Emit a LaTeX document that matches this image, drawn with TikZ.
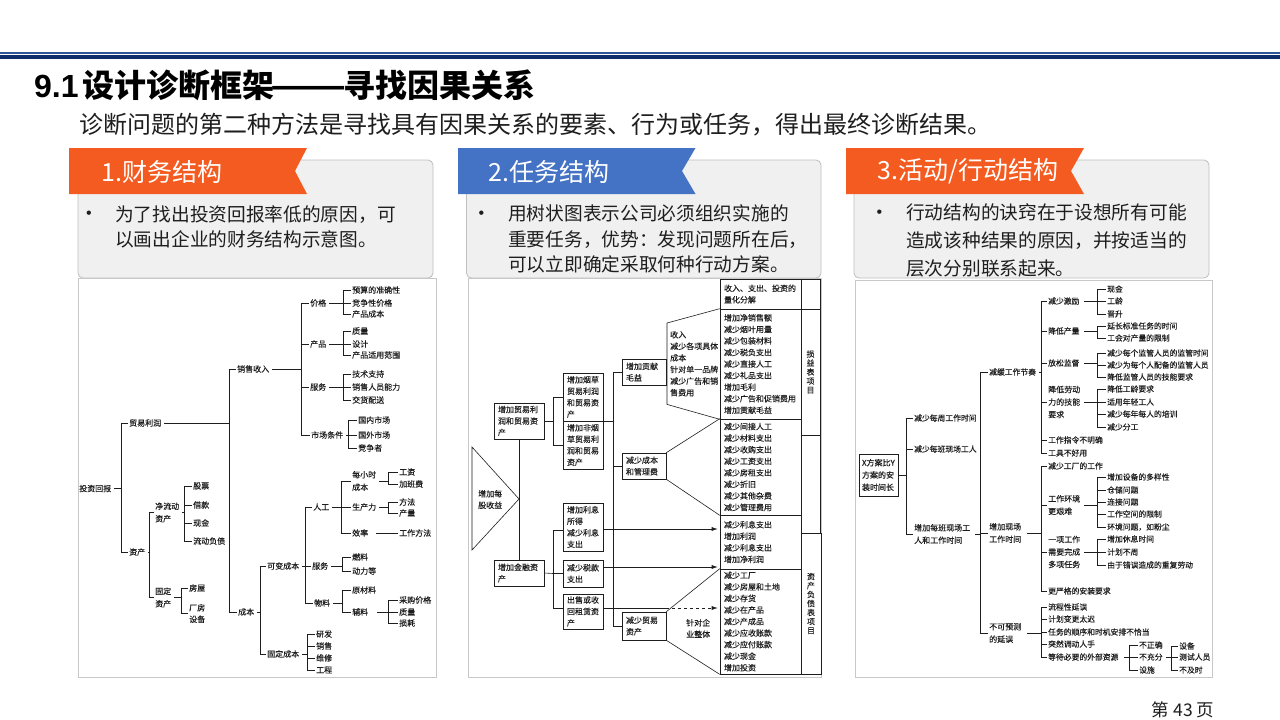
\documentclass[tikz,border=0pt]{standalone}
\usepackage{fontspec}
\setmainfont{Noto Sans CJK SC}
\newfontfamily\scan[FakeBold=0.15]{Noto Sans CJK SC}
\newfontfamily\lib{Liberation Sans}
\usetikzlibrary{arrows.meta}
\definecolor{navy}{HTML}{0F2D69}
\definecolor{navyl}{HTML}{2F5597}
\definecolor{ribo}{HTML}{F45B20}
\definecolor{ribb}{HTML}{4472C4}
\definecolor{cardf}{HTML}{F0F0F0}
\definecolor{cardl}{HTML}{BFBFBF}
\definecolor{frm}{HTML}{C8C8C8}
\definecolor{ink}{HTML}{1E1E1E}
\tikzset{
  lbl/.style={anchor=west,inner xsep=1pt,inner ysep=0pt,xshift=-1pt,align=left,text=ink,font=\scan\fontsize{8}{11.5}\selectfont},
  lw/.style={font=\scan\fontsize{8}{12.5}\selectfont},
  ln/.style={draw=ink,line width=0.6pt},
  boxn/.style={draw=ink,line width=0.6pt,fill=white,inner xsep=4pt,inner ysep=0pt,align=left,text=ink,font=\scan\fontsize{8}{11.5}\selectfont},
  celln/.style={draw=ink,line width=0.6pt,inner xsep=4pt,inner ysep=0pt,align=left,text=ink,font=\scan\fontsize{8}{11.55}\selectfont},
  frame/.style={draw=frm,line width=1pt,fill=white,inner sep=0pt},
  card/.style={draw=cardl,line width=0.8pt,fill=cardf,rounded corners=5pt,inner sep=0pt},
  ribtxt/.style={anchor=west,inner sep=0pt,text=white,font=\fontsize{25}{30}\selectfont},
  body/.style={anchor=west,inner sep=0pt,align=left,text=ink,font=\fontsize{18.7}{25.4}\selectfont},
  bul/.style={inner sep=0pt,text=ink,font=\lib\fontsize{16}{18}\selectfont},
}
% \rect{name}{x1}{y1}{x2}{y2}{style}
\newcommand\rect[6]{\node[#6,minimum width={(#4-#2)*1pt},minimum height={(#5-#3)*1pt}] (#1) at ({(#2+#4)/2},{(#3+#5)/2}) {};}
% \tl[style]{name}{x}{y}{text}
\newcommand\tl[5][]{\node[lbl,#1] (#2) at (#3,#4) {#5};}
% \bx{name}{x1}{y1}{x2}{y2}{text width}{text}
\newcommand\bx[7]{\node[boxn,text width=#6pt,minimum height={(#5-#3)*1pt}] (#1) at ({(#2+#4)/2},{(#3+#5)/2}) {#7};}
\newcommand\cell[6]{\node[celln,text width=73pt,minimum height={(#5-#3)*1pt}] (#1) at ({(#2+#4)/2},{(#3+#5)/2}) {#6};}
% \br[gap]{from anchor}{bus x}{children}
\newcommand\br[4][2pt]{\coordinate (bxx) at (#3,0); \coordinate (bst) at (#2 -| bxx);
  \draw[ln,shorten <=#1] (#2) -- (bst);
  \foreach \c in {#4}{\draw[ln] (bst) |- (\c.west);}}
\begin{document}
\begin{tikzpicture}[x=1pt,y=-1pt]
\useasboundingbox (0,0) rectangle (1280,720);
\fill[white] (0,0) rectangle (1280,720);
% top rule
\fill[navyl] (0,52) rectangle (1280,54);
\fill[navy] (0,55) rectangle (1280,59);
% title
\node[anchor=west,inner sep=0pt,font=\bfseries\fontsize{32}{36}\selectfont,text=black] (title) at (34,85) {{\lib 9.1}\hspace{3.5pt}设计诊断框架\makebox[69pt][c]{\scalebox{1.39}[1]{——}}寻找因果关系};
\node[anchor=west,inner sep=0pt,font=\fontsize{24}{28}\selectfont,text=ink] (sub) at (79,125) {诊断问题的第二种方法是寻找具有因果关系的要素、行为或任务，得出最终诊断结果。};
% cards
\rect{c1}{78}{160}{433}{278}{card}
\rect{c2}{466.5}{160}{821}{278}{card}
\rect{c3}{854}{160}{1209}{278}{card}
\fill[ribo] (69,148) -- (307,148) -- (295,171) -- (307,194) -- (69,194) -- cycle;
\fill[ribb] (458,148) -- (695.5,148) -- (682,171) -- (695.5,194) -- (458,194) -- cycle;
\fill[ribo] (846,148) -- (1084,148) -- (1071,171) -- (1084,194) -- (846,194) -- cycle;
\node[ribtxt] (r1) at (101,171.5) {1.财务结构};
\node[ribtxt] (r2) at (488.5,171.5) {2.任务结构};
\node[ribtxt] (r3) at (877.5,171.5) {3.活动/行动结构};
\node[bul] (b1) at (89,214.5) {•};
\node[bul] (b2) at (481.5,214.5) {•};
\node[bul] (b3) at (879.5,213.5) {•};
\node[body] (t1) at (115,227) {为了找出投资回报率低的原因，可\\以画出企业的财务结构示意图。};
\node[body] (t2) at (508,239) {用树状图表示公司必须组织实施的\\重要任务，优势：发现问题所在后，\\可以立即确定采取何种行动方案。};
\node[body,font=\fontsize{18.7}{28}\selectfont] (t3) at (906,240.5) {行动结构的诀窍在于设想所有可能\\造成该种结果的原因，并按适当的\\层次分别联系起来。};
% footer
\node[inner sep=0pt,font=\fontsize{17.5}{20}\selectfont,text=ink] (pg) at (1183,710) {第 43 页};
% frames
\rect{f1}{78}{278}{436}{677}{frame}
\rect{f2}{468}{278}{821}{677}{frame}
\rect{f3}{855}{280}{1212}{677}{frame}

%%%%%% PANEL 1
\tl{a}{79}{488.5}{投资回报}
\tl{a1}{129}{423}{贸易利润}
\tl{a2}{129}{552}{资产}
\tl{a11}{237}{369}{销售收入}
\tl{a12}{238}{612}{成本}
\tl{p1}{310}{303}{价格}
\tl{p2}{310}{344}{产品}
\tl{p3}{310}{387}{服务}
\tl{p4}{311}{435}{市场条件}
\tl{p11}{352}{290}{预算的准确性}
\tl{p12}{352}{303}{竞争性价格}
\tl{p13}{352}{314}{产品成本}
\tl{p21}{352}{331}{质量}
\tl{p22}{352}{344}{设计}
\tl{p23}{352}{355}{产品适用范围}
\tl{p31}{352}{374}{技术支持}
\tl{p32}{352}{387}{销售人员能力}
\tl{p33}{352}{400}{交货配送}
\tl{p41}{358}{420}{国内市场}
\tl{p42}{358}{435}{国外市场}
\tl{p43}{358}{448}{竞争者}
\tl[lw]{n1}{155}{512.5}{净流动\\资产}
\tl[lw]{n2}{155}{597.5}{固定\\资产}
\tl{n11}{193}{486}{股票}
\tl{n12}{193}{505}{借款}
\tl{n13}{193}{523}{现金}
\tl{n14}{193}{541}{流动负债}
\tl{n21}{189}{588}{房屋}
\tl{n22}{189}{613.5}{厂房\\设备}
\tl{k1}{267}{566}{可变成本}
\tl{k2}{267}{654}{固定成本}
\tl{q1}{313}{507}{人工}
\tl{q2}{312}{566}{服务}
\tl{q3}{314}{603}{物料}
\tl[lw]{w1}{352}{481}{每小时\\成本}
\tl{w2}{352}{507}{生产力}
\tl{w3}{352}{533}{效率}
\tl{w11}{399}{472}{工资}
\tl{w12}{399}{484}{加班费}
\tl{w21}{399}{502}{方法}
\tl{w22}{399}{513}{产量}
\tl{w31}{399}{533}{工作方法}
\tl{s1}{352}{557}{燃料}
\tl{s2}{352}{571}{动力等}
\tl{m1}{352}{590}{原材料}
\tl{m2}{352}{612}{辅料}
\tl{m21}{399}{600}{采购价格}
\tl{m22}{399}{612}{质量}
\tl{m23}{399}{623}{损耗}
\tl{g1}{316}{634}{研发}
\tl{g2}{316}{646}{销售}
\tl{g3}{316}{658}{维修}
\tl{g4}{316}{670}{工程}
\br{a.east}{121}{a1,a2}
\br{a1.east}{229}{a11,a12}
\br{a11.east}{301}{p1,p2,p3,p4}
\br{p1.east}{343}{p11,p12,p13}
\br{p2.east}{343}{p21,p22,p23}
\br{p3.east}{343}{p31,p32,p33}
\br{p4.east}{348}{p41,p42,p43}
\br{a2.east}{149}{n1,n2}
\br{n1.east}{184}{n11,n12,n13,n14}
\br{n2.east}{181}{n21,n22}
\br{a12.east}{260}{k1,k2}
\br{k1.east}{305}{q1,q2,q3}
\br{k2.east}{307}{g1,g2,g3,g4}
\br{q1.east}{341}{w1,w2,w3}
\br{w1.east}{388}{w11,w12}
\br{w2.east}{388}{w21,w22}
\draw[ln,shorten <=7pt] (w3.east) -- (w31.west);
\br{q2.east}{342}{s1,s2}
\br{q3.east}{342}{m1,m2}
\br[8pt]{m2.east}{388}{m21,m22,m23}

%%%%%% PANEL 2
\draw[ln] (472,447) -- (519,499) -- (472,550) -- cycle;
\node[lbl] (tri) at (478,499.5) {增加每\\股收益};
\bx{b1}{494}{403}{544}{439}{42}{增加贸易利\\润和贸易资\\产}
\bx{m0}{494}{560}{544}{586}{42}{增加金融资\\产}
\draw[ln] (b1.south) -- (m0.north);
\bx{b3}{563}{373}{603}{421}{32}{增加烟草\\贸易利润\\和贸易资\\产}
\bx{b4}{563}{421}{603}{469}{32}{增加非烟\\草贸易利\\润和贸易\\资产}
\bx{i1}{563}{503}{603}{551}{32}{增加利息\\所得\\减少利息\\支出}
\bx{i2}{563}{560}{603}{587}{32}{减少税款\\支出}
\bx{i3}{563}{594}{603}{629}{32}{出售或收\\回租赁资\\产}
\bx{c1x}{622}{359}{666}{385}{36}{增加贡献\\毛益}
\bx{c2x}{622}{453}{666}{479}{36}{减少成本\\和管理费}
\bx{c3x}{622}{612}{666}{640}{36}{减少贸易\\资产}
\br[0pt]{b1.east}{553}{b3,b4}
\br[0pt]{b3.south east}{613}{c1x,c2x,c3x}
\coordinate (bs) at (553,573.5);
\draw[ln] (m0.east) -- (bs);
\draw[ln] (bs) |- ([yshift=-3pt]i1.west);
\draw[ln] (bs) |- (i2.west);
\draw[ln] (bs) |- ([yshift=3.5pt]i3.west);
% table
\cell{T1}{720}{279}{801}{309}{收入、支出、投资的\\量化分解}
\cell{T2}{720}{309}{801}{419}{增加净销售额\\减少烟叶用量\\减少包装材料\\减少税负支出\\减少直接人工\\减少礼品支出\\增加毛利\\减少广告和促销费用\\增加贡献毛益}
\cell{T3}{720}{419}{801}{515}{减少间接人工\\减少材料支出\\减少收购支出\\减少工资支出\\减少房租支出\\减少折旧\\减少其他杂费\\减少管理费用}
\cell{T4}{720}{515}{801}{569}{减少利息支出\\增加利润\\减少利息支出\\增加净利润}
\cell{T5}{720}{569}{801}{674}{减少工厂\\减少房屋和土地\\减少存货\\减少在产品\\减少产成品\\减少应收账款\\减少应付账款\\减少现金\\增加投资}
\tikzset{rc/.style={draw=ink,line width=0.6pt,inner sep=0pt,align=center,text=ink,text width=10pt,font=\scan\fontsize{8}{9}\selectfont}}
\node[rc,minimum width=19pt,minimum height=30pt] (R0) at (810.5,294) {};
\node[rc,minimum width=19pt,minimum height=126pt] (R1) at (810.5,372) {损\\益\\表\\项\\目};
\node[rc,minimum width=19pt,minimum height=98pt] (R2) at (810.5,484) {};
\node[rc,minimum width=20pt,minimum height=141pt] (R3) at (811,603.5) {资\\产\\负\\债\\表\\项\\目};
% fans
\node[anchor=north west,inner xsep=3pt,inner ysep=0pt,minimum height=81pt,text width=50pt,align=left,text=ink,font=\scan\fontsize{8}{11.6}\selectfont] (fan) at (667,323) {收入\\减少各项具体\\成本\\针对单一品牌\\减少广告和销\\售费用};
\draw[ln] (T2.north west) -- (fan.north west) -- (fan.south west) -- (T2.south west);
\draw[ln] (T3.north west) -- (c2x.north east);
\draw[ln] (T3.south west) -- (c2x.south east);
\draw[ln] (T5.north west) -- (c3x.north east);
\draw[ln] (T5.south west) -- (c3x.south east);
\node[lbl] (whole) at (686,628.5) {针对企\\业整体};
% arrows
\tikzset{arr/.style={ln,-{Latex[length=6pt,width=4pt]},shorten >=2pt}}
\draw[arr] ([yshift=-2pt]i1.east) -- ([yshift=-2pt]i1.east -| T4.west);
\draw[arr] ([yshift=6.5pt]i2.east) -- ([yshift=6.5pt]i2.east -| T4.west);
\coordinate (dsh) at (666,608);
\draw[ln] ([yshift=3.5pt]i3.east) -- (dsh);
\draw[arr,dashed] (dsh) -- (dsh -| T5.west);

%%%%%% PANEL 3
\tikzset{lbl/.append style={font=\scan\fontsize{7.8}{11.5}\selectfont}}
\node[boxn,draw=ink,inner xsep=3pt,text width=33pt,minimum height=42pt,font=\scan\fontsize{8}{12.3}\selectfont] (z) at (878.5,475) {X方案比Y\\方案的安\\装时间长};
\tl{z1}{914}{418}{减少每周工作时间}
\tl{z2}{914}{449}{减少每班现场工人}
\tl[lw]{z3}{914}{534}{增加每班现场工\\人和工作时间}
\tl{y1}{989}{372}{减缓工作节奏}
\tl[lw]{y2}{989}{533}{增加现场\\工作时间}
\tl[lw]{y3}{989}{633}{不可预测\\的延误}
\tl{x1}{1048}{301}{减少激励}
\tl{x2}{1048}{331}{降低产量}
\tl{x3}{1048}{363}{放松监督}
\tl[lw]{x4}{1048}{402}{降低劳动\\力的技能\\要求}
\tl{x5}{1048}{440}{工作指令不明确}
\tl{x6}{1048}{453}{工具不好用}
\tl{x11}{1107}{289}{现金}
\tl{x12}{1107}{301}{工龄}
\tl{x13}{1107}{314}{晋升}
\tl{x21}{1107}{326}{延长标准任务的时间}
\tl{x22}{1107}{338}{工会对产量的限制}
\tl{x31}{1107}{353}{减少每个监管人员的监管时间}
\tl{x32}{1107}{365}{减少为每个人配备的监管人员}
\tl{x33}{1107}{377}{降低监管人员的技能要求}
\tl{x41}{1107}{389}{降低工龄要求}
\tl{x42}{1107}{402}{适用年轻工人}
\tl{x43}{1107}{414}{减少每年每人的培训}
\tl{x44}{1107}{427}{减少分工}
\tl{v1}{1048}{466}{减少工厂的工作}
\tl[lw]{v2}{1048}{505}{工作环境\\更艰难}
\tl[lw]{v3}{1048}{552}{一项工作\\需要完成\\多项任务}
\tl{v4}{1048}{591}{更严格的安装要求}
\tl{v21}{1107}{477}{增加设备的多样性}
\tl{v22}{1107}{490}{仓储问题}
\tl{v23}{1107}{502}{连接问题}
\tl{v24}{1107}{514}{工作空间的限制}
\tl{v25}{1107}{527}{环境问题，如粉尘}
\tl{v31}{1107}{539}{增加休息时间}
\tl{v32}{1107}{552}{计划不周}
\tl{v33}{1107}{565}{由于错误造成的重复劳动}
\tl{u1}{1048}{607}{流程性延误}
\tl{u2}{1048}{619}{计划变更太迟}
\tl{u3}{1048}{632}{任务的顺序和时机安排不恰当}
\tl{u4}{1048}{644}{突然调动人手}
\tl{u5}{1048}{657}{等待必要的外部资源}
\tl{u51}{1139}{645}{不正确}
\tl{u52}{1139}{657}{不充分}
\tl{u53}{1139}{670}{设施}
\tl{u521}{1179}{646}{设备}
\tl{u522}{1179}{657}{测试人员}
\tl{u523}{1179}{670}{不及时}
\br[0pt]{z.east}{906}{z1,z2,z3}
\br[4pt]{z3.east}{980}{y1,y2,y3}
\br{y1.east}{1041}{x1,x2,x3,x4,x5,x6}
\br[3pt]{x1.east}{1097}{x11,x12,x13}
\br[3pt]{x2.east}{1097}{x21,x22}
\br[3pt]{x3.east}{1097}{x31,x32,x33}
\br[3pt]{x4.east}{1097}{x41,x42,x43,x44}
\br[5pt]{y2.east}{1041}{v1,v2,v3,v4}
\br[3pt]{v2.east}{1097}{v21,v22,v23,v24,v25}
\br[3pt]{v3.east}{1097}{v31,v32,v33}
\br[5pt]{y3.east}{1041}{u1,u2,u3,u4,u5}
\br[4pt]{u5.east}{1129}{u51,u52,u53}
\br[2pt]{u52.east}{1171}{u521,u522,u523}
\end{tikzpicture}
\end{document}
